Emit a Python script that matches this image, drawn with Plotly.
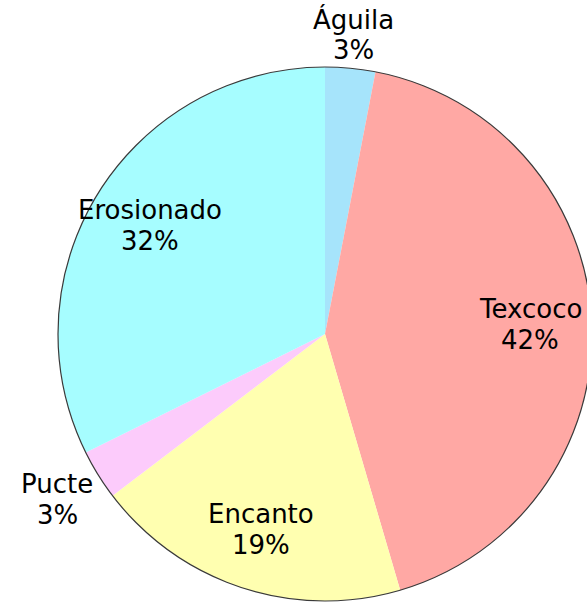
import math
import plotly.graph_objects as go

# Share of each site, in percent (clockwise from 12 o'clock)
sites = ["Águila", "Texcoco", "Encanto", "Pucte", "Erosionado"]
shares = [3, 42, 19, 3, 32]
colors = ["#a6e4fb", "#ffa8a4", "#ffffb0", "#fccbfb", "#a6fdff"]
inside = [False, True, True, False, True]

W, H = 600, 602
CX, CY, R = 325, 334, 267          # pie centre and radius, in pixels
FS = 26                            # label font size
LINE = 31                          # gap between the name line and the percent line
GAP = 5                            # clearance between rim and an outside label
dom_x = [(CX - R) / W, (CX + R) / W]
dom_y = [(H - CY - R) / H, (H - CY + R) / H]

fig = go.Figure()

fig.add_trace(go.Pie(
    labels=sites,
    values=shares,
    sort=False,
    direction="clockwise",
    rotation=0,
    marker=dict(colors=colors, line=dict(width=0)),
    textinfo="none",
    hoverinfo="label+percent",
    showlegend=False,
    domain=dict(x=dom_x, y=dom_y),
))

# thin dark rim around the whole pie
fig.add_trace(go.Pie(
    labels=["rim"],
    values=[sum(shares)],
    sort=False,
    marker=dict(colors=["rgba(0,0,0,0)"], line=dict(color="#3a3a3a", width=1.2)),
    textinfo="none",
    hoverinfo="skip",
    showlegend=False,
    domain=dict(x=dom_x, y=dom_y),
))

# slice labels (name over percent), placed along each slice's mid-angle
total = sum(shares)
start = 0.0
font = dict(family="DejaVu Sans", size=FS, color="black")
for name, val, ins in zip(sites, shares, inside):
    span = 360.0 * val / total
    mid = math.radians(start + span / 2)
    start += span
    s, c = math.sin(mid), math.cos(mid)
    if ins:
        dist = 0.77 * R
    else:
        # push the label block out until it clears the rim
        hw = 0.56 * FS * max(len(name), len(f"{val}%")) / 2
        hh = (LINE + FS) / 2
        reach = min(hw / max(abs(s), 1e-6), hh / max(abs(c), 1e-6))
        dist = R + GAP + reach
    px = CX + dist * s
    py = CY - dist * c
    for txt, dy in ((name, -LINE / 2), (f"{val}%", LINE / 2)):
        fig.add_annotation(
            x=px / W, y=(H - (py + dy)) / H, xref="paper", yref="paper",
            text=txt, showarrow=False,
            xanchor="center", yanchor="middle", align="center", font=font,
        )

fig.update_layout(
    width=W,
    height=H,
    margin=dict(l=0, r=0, t=0, b=0),
    paper_bgcolor="white",
    plot_bgcolor="white",
    showlegend=False,
)

fig.write_html(
    "out.html",
    post_script="document.body.style.overflow='hidden';document.body.style.margin='0';",
)
